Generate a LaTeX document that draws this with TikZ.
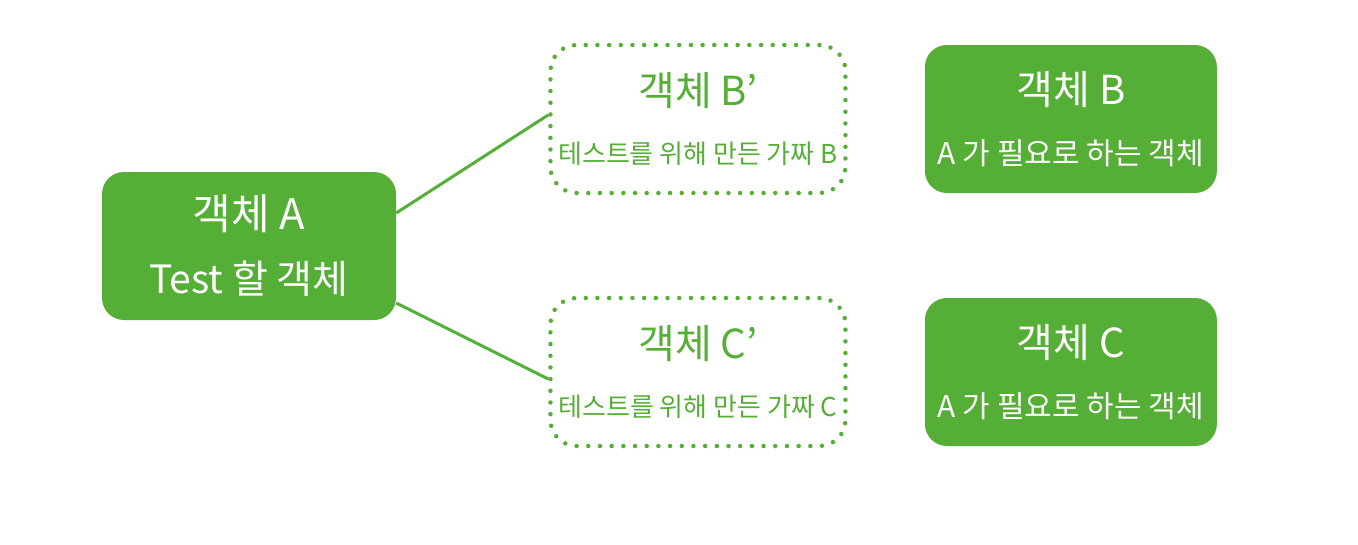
\documentclass[tikz,border=0pt]{standalone}
\usepackage{fontspec}
\setmainfont{Noto Sans CJK KR}
\usetikzlibrary{positioning}
\definecolor{leaf}{HTML}{55AE35}

\begin{document}
\begin{tikzpicture}[
  x=1pt, y=-1pt,
  realbox/.style = {fill=leaf, text=white, rounded corners=22pt, minimum width=294pt, minimum height=148pt, align=center, inner sep=0pt},
  fakebox/.style = {draw=leaf, text=leaf, line width=4.5pt, dash pattern=on 0pt off 11.686pt, line cap=round, rounded corners=26pt, minimum width=295pt, minimum height=148pt, align=center, inner sep=0pt},
  link/.style = {draw=leaf, line width=3pt}
]
  \useasboundingbox (0,0) rectangle (1358,544);

  % Nodes
  \node[realbox] (objA) at (249,246) {\fontsize{42}{42}\selectfont 객체 A\\[27pt]\fontsize{39}{39}\selectfont Test 할 객체};
  \node[fakebox, right=152pt of objA, yshift=127pt] (fakeB) {\fontsize{40}{40}\selectfont 객체 B’\\[33pt]\fontsize{26}{26}\selectfont 테스트를 위해 만든 가짜 B};
  \node[fakebox, right=152pt of objA, yshift=-126pt] (fakeC) {\fontsize{40}{40}\selectfont 객체 C’\\[33pt]\fontsize{26}{26}\selectfont 테스트를 위해 만든 가짜 C};
  \node[realbox, minimum width=292pt, right=77pt of fakeB] (objB) {\fontsize{40}{40}\selectfont 객체 B\\[31pt]\fontsize{30}{30}\selectfont A 가 필요로 하는 객체};
  \node[realbox, minimum width=292pt, right=77pt of fakeC] (objC) {\fontsize{40}{40}\selectfont 객체 C\\[31pt]\fontsize{30}{30}\selectfont A 가 필요로 하는 객체};

  % Connections
  \draw[link] ([yshift=33pt]objA.east) -- ([yshift=4pt]fakeB.west);
  \draw[link] ([yshift=-57pt]objA.east) -- ([yshift=-7pt]fakeC.west);
\end{tikzpicture}
\end{document}
